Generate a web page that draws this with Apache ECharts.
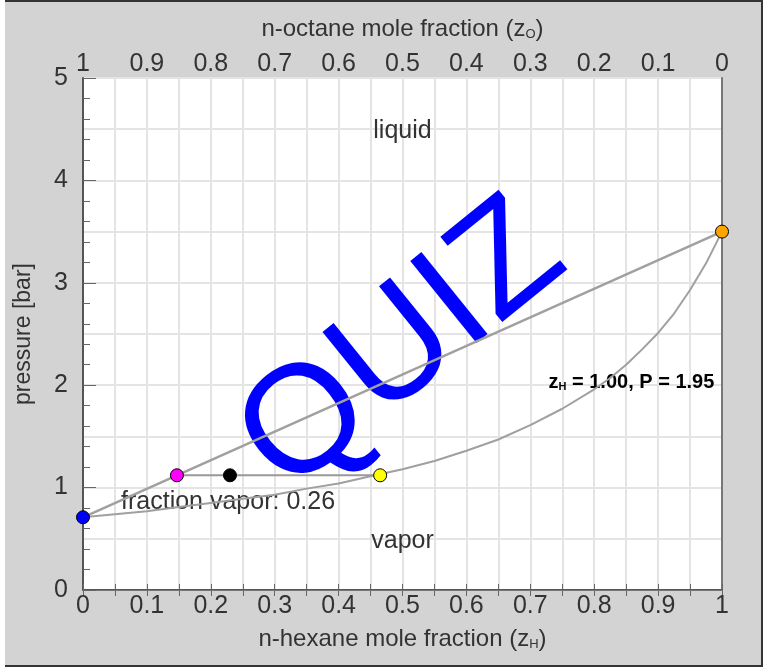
<!DOCTYPE html>
<html>
<head>
<meta charset="utf-8">
<script src="https://cdn.jsdelivr.net/npm/echarts@6/dist/echarts.min.js"></script>
<style>
  html, body { margin: 0; padding: 0; background: #fff; }
  #frame { position: absolute; left: 5px; top: 0; width: 756px; height: 663px;
           background: #d3d3d3; border-top: 2px solid #333; border-right: 2px solid #333; border-bottom: 2px solid #333; }
  #chart { position: absolute; left: 0; top: 0; width: 768px; height: 667px; }
</style>
</head>
<body>
<div id="frame"></div>
<div id="chart"></div>
<script>
// hexane mole fraction along the dew curve and the pressure read there (bar)
const dewZ = [0, 0.05, 0.1, 0.15, 0.2, 0.25, 0.3, 0.35, 0.4, 0.45, 0.5, 0.55, 0.6, 0.65, 0.7, 0.75, 0.8, 0.825, 0.85, 0.875, 0.9, 0.925, 0.95, 0.975, 1];
const dewP = [0.71, 0.74, 0.77, 0.81, 0.85, 0.89, 0.93, 0.99, 1.04, 1.11, 1.18, 1.26, 1.36, 1.47, 1.61, 1.77, 1.96, 2.07, 2.20, 2.35, 2.51, 2.70, 2.93, 3.19, 3.5];
// bubble line (straight)
const bubbleZ = [0, 1];
const bubbleP = [0.71, 3.5];
// tie line at the current pressure
const tieZ = [0.147, 0.465];
const tieP = 1.12;
const feedZ = 0.23;

const pureOctane = [0, 0.71];
const pureHexane = [1, 3.5];

const textFont = 'Liberation Sans, Arial, sans-serif';
const gridLine = { color: '#e4e4e4', width: 2 };

const chart = echarts.init(document.getElementById('chart'));

const dot = (pt, color) => ({
  type: 'scatter', data: [pt], symbolSize: 13, z: 8, clip: false,
  itemStyle: { color: color, borderColor: '#000', borderWidth: 1, opacity: 1 }
});

const note = (pt, text, opts) => ({
  type: 'scatter', data: [pt], symbolSize: 0, z: 4, silent: true,
  itemStyle: { opacity: 1 },
  label: Object.assign({
    show: true, position: 'inside', formatter: text,
    fontFamily: textFont, fontSize: 25, color: '#333'
  }, opts)
});

const axisNameStyle = {
  fontFamily: textFont, fontSize: 24, color: '#333',
  rich: {
    a: { fontFamily: textFont, fontSize: 24, color: '#333' },
    s: { fontFamily: textFont, fontSize: 13, color: '#333', verticalAlign: 'bottom', padding: [8, 0, 0, 0] }
  }
};

const tickLabel = { fontFamily: textFont, fontSize: 25, color: '#333' };

chart.setOption({
  animation: false,
  grid: { left: 83, right: 46, top: 78, bottom: 77, outerBoundsMode: 'none', containLabel: false,
          show: true, backgroundColor: '#fff', borderWidth: 0 },
  xAxis: [{
    type: 'value', min: 0, max: 1, interval: 0.1, position: 'bottom',
    name: '{a|n-hexane mole fraction (z}{s|H}{a|)}', nameLocation: 'middle', nameGap: 37,
    nameTextStyle: axisNameStyle,
    axisLine: { show: true, lineStyle: { color: '#555', width: 2 } },
    axisTick: { show: true, inside: true, length: 6, lineStyle: { color: '#666' } },
    minorTick: { show: true, splitNumber: 2, length: 6, lineStyle: { color: '#666' } },
    splitLine: { show: true, lineStyle: gridLine },
    minorSplitLine: { show: true, lineStyle: gridLine },
    axisLabel: Object.assign({ margin: 4 }, tickLabel)
  }, {
    type: 'value', min: 0, max: 1, interval: 0.1, position: 'top', inverse: true,
    name: '{a|n-octane mole fraction (z}{s|O}{a|)}', nameLocation: 'middle', nameGap: 37,
    nameTextStyle: axisNameStyle,
    axisLine: { show: true, lineStyle: { color: '#777', width: 1 } },
    axisTick: { show: true, inside: true, length: 6, lineStyle: { color: '#666' } },
    minorTick: { show: true, splitNumber: 2, length: 6, lineStyle: { color: '#666' } },
    splitLine: { show: false },
    axisLabel: Object.assign({ margin: 1 }, tickLabel)
  }],
  yAxis: [{
    type: 'value', min: 0, max: 5, interval: 1, position: 'left',
    name: 'pressure [bar]', nameLocation: 'middle', nameGap: 48,
    nameTextStyle: { fontFamily: textFont, fontSize: 23, color: '#333' },
    axisLine: { show: true, lineStyle: { color: '#555', width: 2 } },
    axisTick: { show: true, inside: true, length: 13, lineStyle: { color: '#666' } },
    minorTick: { show: true, splitNumber: 5, length: 7, lineStyle: { color: '#666' } },
    splitLine: { show: false },
    axisLabel: Object.assign({ margin: 15 }, tickLabel)
  }, {
    type: 'value', min: 0, max: 5, interval: 0.5, position: 'right',
    axisLine: { show: true, lineStyle: { color: '#777', width: 2 } },
    axisTick: { show: false },
    axisLabel: { show: false },
    splitLine: { show: true, lineStyle: gridLine }
  }],
  series: [
    note([0.5, 2.36], 'QUIZ', { fontSize: 153, color: '#0000ff', rotate: 39 }),
    {
      type: 'line', data: bubbleZ.map((z, i) => [z, bubbleP[i]]), showSymbol: false, z: 6,
      lineStyle: { color: '#a0a0a0', width: 2.5 }
    },
    {
      type: 'line', data: dewZ.map((z, i) => [z, dewP[i]]), showSymbol: false, z: 6,
      lineStyle: { color: '#a0a0a0', width: 2 }
    },
    {
      type: 'line', data: tieZ.map(z => [z, tieP]), showSymbol: false, z: 6,
      lineStyle: { color: '#999', width: 2 }
    },
    note([0.5, 4.48], 'liquid', { z: 7 }),
    note([0.5, 0.48], 'vapor', { z: 7 }),
    note([0.0595, 0.86], 'fraction vapor: 0.26', { align: 'left' }),
    note([0.988, 2.03], '{b|z}{s|H}{b| = 1.00, P = 1.95}', {
      align: 'right',
      rich: {
        b: { fontFamily: textFont, fontSize: 20, fontWeight: 'bold', color: '#000' },
        s: { fontFamily: textFont, fontSize: 11, fontWeight: 'bold', color: '#000', verticalAlign: 'bottom', padding: [6, 0, 0, 0] }
      }
    }),
    dot(pureOctane, '#0000ff'),
    dot(pureHexane, '#ffa500'),
    dot([tieZ[0], tieP], '#ff00ff'),
    dot([tieZ[1], tieP], '#ffff00'),
    dot([feedZ, tieP], '#000000')
  ]
});
</script>
</body>
</html>
